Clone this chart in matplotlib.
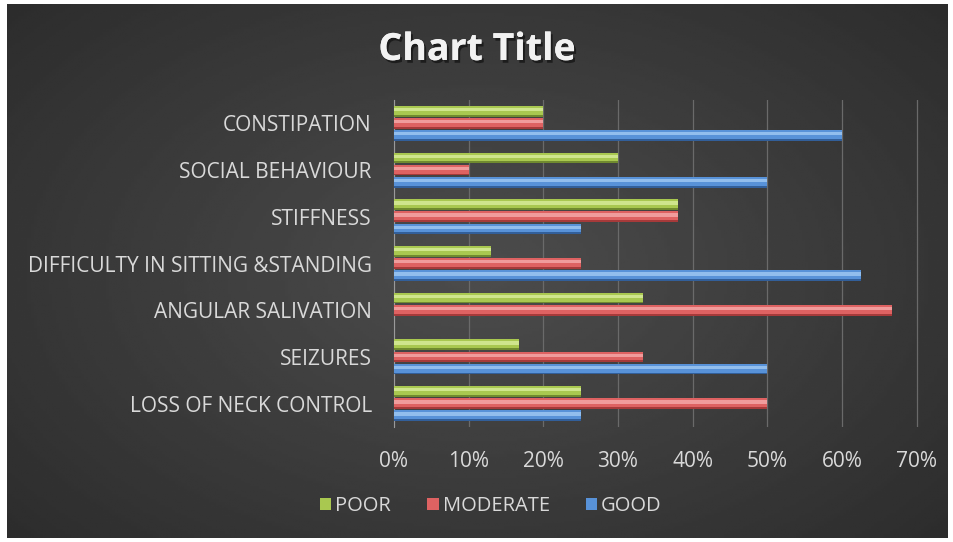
import numpy as np
import matplotlib.pyplot as plt
import matplotlib.patheffects as pe
from matplotlib.ticker import PercentFormatter

categories = ['LOSS OF NECK CONTROL', 'SEIZURES', 'ANGULAR SALIVATION',
              'DIFFICULTY IN SITTING &STANDING', 'STIFFNESS',
              'SOCIAL BEHAVIOUR', 'CONSTIPATION']
good = [0.25, 0.50, 0.0, 0.625, 0.25, 0.50, 0.60]
moderate = [0.50, 0.333, 0.667, 0.25, 0.38, 0.10, 0.20]
poor = [0.25, 0.167, 0.333, 0.13, 0.38, 0.30, 0.20]

series = [('GOOD', good, '#5892d8', '#a6cdf5', '#2c5690', -0.26),
          ('MODERATE', moderate, '#de6262', '#f7b0b0', '#9c3434', 0.0),
          ('POOR', poor, '#a9c850', '#dcefa2', '#66802a', 0.26)]

txt = '#d9d9d9'
plt.rcParams['font.family'] = ['Open Sans', 'DejaVu Sans']

fig = plt.figure(figsize=(9.54, 5.42), dpi=100)
fig.patch.set_facecolor('white')

# dark radial background
bg = fig.add_axes([7 / 954, 4 / 542, 941 / 954, 534 / 542])
yy, xx = np.mgrid[-1:1:200j, -1:1:300j]
r = np.sqrt(xx ** 2 + (yy * 0.9) ** 2)
bg.imshow(0.30 - 0.13 * np.clip(r, 0, 1.4) / 1.4, cmap='gray', vmin=0, vmax=1,
          aspect='auto', extent=[0, 1, 0, 1])
bg.axis('off')

ax = fig.add_axes([394 / 954, 115 / 542, 530 / 954, 327 / 542])
ax.set_facecolor('none')
y = np.arange(len(categories))
h = 0.23
for name, vals, col, light, dark, off in series:
    ax.barh(y + off, vals, height=h, color=col, edgecolor='none', zorder=3, label=name)
    # 3d look: dark lower edge and glossy highlight band
    ax.barh(y + off - h * 0.41, vals, height=h * 0.18, color=dark, alpha=0.85,
            edgecolor='none', zorder=4)
    ax.barh(y + off + h * 0.16, vals, height=h * 0.3, color=light, alpha=0.75,
            edgecolor='none', zorder=4)

ax.set_xlim(0, 0.71)
ax.set_ylim(-0.5, 6.5)
ax.set_xticks(np.arange(0, 0.71, 0.1))
ax.xaxis.set_major_formatter(PercentFormatter(1.0, decimals=0))
ax.set_yticks(y)
ax.set_yticklabels(categories)
ax.tick_params(axis='both', length=0, colors=txt)
ax.tick_params(axis='y', pad=16, labelsize=15)
ax.tick_params(axis='x', pad=17, labelsize=15)
ax.grid(axis='x', color='#6a6a6a', linewidth=0.9, zorder=0)
for s in ['top', 'right', 'bottom']:
    ax.spines[s].set_visible(False)
ax.spines['left'].set_color('#9a9a9a')

fig.text(0.5, 1 - 50 / 542, 'Chart Title', ha='center', va='center',
         fontsize=27, fontweight='bold', color='#f2f2f2',
         path_effects=[pe.withSimplePatchShadow(offset=(1.5, -2), shadow_rgbFace='black', alpha=0.5),
                       pe.Normal()])

handles, labels = ax.get_legend_handles_labels()
leg = fig.legend(handles[::-1], labels[::-1], loc='center', ncol=3,
                 bbox_to_anchor=(491 / 954, 1 - 506 / 542), frameon=False,
                 fontsize=14.5, handlelength=0.55, handleheight=0.55,
                 handletextpad=0.2, columnspacing=1.8)
for t in leg.get_texts():
    t.set_color(txt)

fig.savefig('out.png', dpi=100)
